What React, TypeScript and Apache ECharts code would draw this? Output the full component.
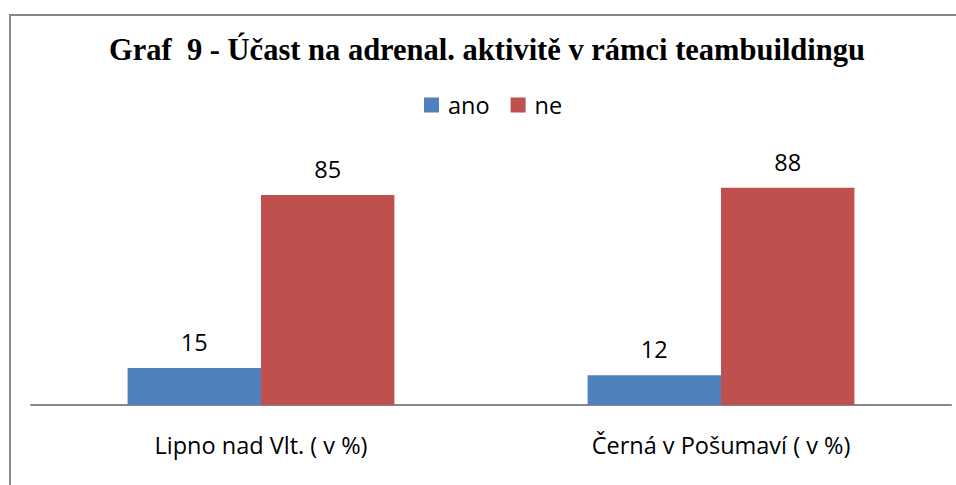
import React, { useEffect, useRef } from "react";
import * as echarts from "echarts";

const categories = ["Lipno nad Vlt. ( v %)", "Černá v Pošumaví ( v %)"];
const seriesNames = ["ano", "ne"];
const anoValues = [15, 12];
const neValues = [85, 88];
const titleText = "Graf  9 - Účast na adrenal. aktivitě v rámci teambuildingu";

export default function App() {
  const ref = useRef<HTMLDivElement>(null);
  useEffect(() => {
    document.body.style.margin = "0";
    const chart = echarts.init(ref.current!, null, { renderer: "svg" });
    const labelFont = "'Open Sans', 'Noto Sans', sans-serif";
    const fs = 23.5;
    chart.setOption({
      animation: false,
      backgroundColor: "#ffffff",
      title: {
        text: titleText,
        left: 104,
        top: 29,
        textStyle: {
          fontFamily: "'Liberation Serif', 'Times New Roman', serif",
          fontWeight: "bold",
          fontSize: 30.5,
          color: "#000000",
        },
      },
      legend: {
        data: seriesNames,
        top: 88,
        left: 419,
        itemWidth: 15,
        itemHeight: 15,
        itemGap: 21,
        icon: "rect",
        textStyle: {
          fontFamily: labelFont,
          fontSize: fs,
          color: "#000",
          padding: [0, 0, 0, 4],
        },
      },
      grid: { left: 31, right: 5, top: 158, bottom: 80, containLabel: false },
      xAxis: {
        type: "category",
        data: categories,
        axisLine: { lineStyle: { color: "#878787", width: 2 } },
        axisTick: { show: false },
        axisLabel: {
          margin: 28,
          fontFamily: labelFont,
          fontSize: fs,
          color: "#000",
        },
      },
      yAxis: {
        type: "value",
        min: 0,
        max: 100,
        show: false,
        splitLine: { show: false },
      },
      graphic: [
        {
          type: "rect",
          shape: { x: 10, y: 15, width: 1000, height: 1000 },
          style: { fill: "none", stroke: "#878787", lineWidth: 2 },
          silent: true,
        },
      ],
      series: [
        {
          name: seriesNames[0],
          type: "bar",
          data: anoValues,
          barGap: "0%",
          barCategoryGap: "42%",
          itemStyle: { color: "#4F81BD" },
          label: {
            show: true,
            position: "top",
            distance: 14,
            fontFamily: labelFont,
            fontSize: fs,
            color: "#000",
          },
        },
        {
          name: seriesNames[1],
          type: "bar",
          data: neValues,
          barGap: "0%",
          barCategoryGap: "42%",
          itemStyle: { color: "#C0504D" },
          label: {
            show: true,
            position: "top",
            distance: 14,
            fontFamily: labelFont,
            fontSize: fs,
            color: "#000",
          },
        },
      ],
    });
    return () => chart.dispose();
  }, []);
  return <div ref={ref} style={{ width: 956, height: 485 }} />;
}
